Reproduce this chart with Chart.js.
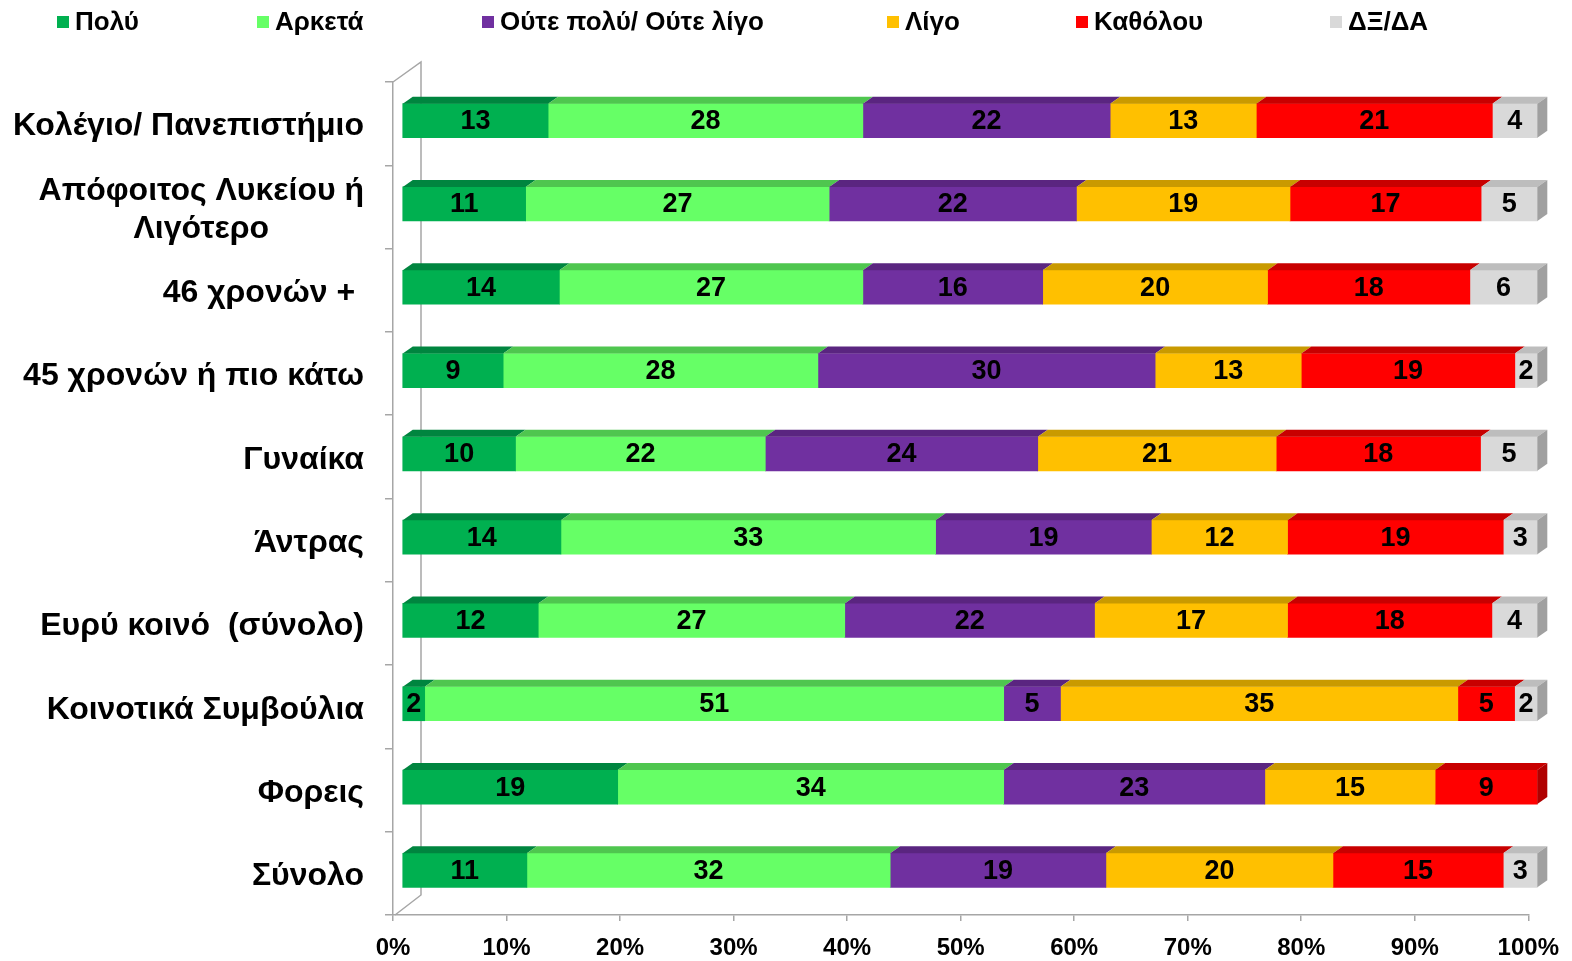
<!DOCTYPE html>
<html><head><meta charset="utf-8">
<script src="https://cdn.jsdelivr.net/npm/chart.js@4.4.0/dist/chart.umd.min.js"></script>
<style>html,body{margin:0;padding:0;background:#fff;overflow:hidden}canvas{display:block}</style>
</head><body>
<canvas id="c" width="1572" height="961"></canvas>
<script>
// ---- DATA ----
const categories = [
  'Κολέγιο/ Πανεπιστήμιο',
  ['Απόφοιτος Λυκείου ή', 'Λιγότερο'],
  '46 χρονών + ',
  '45 χρονών ή πιο κάτω',
  'Γυναίκα',
  'Άντρας',
  'Ευρύ κοινό  (σύνολο)',
  'Κοινοτικά Συμβούλια',
  'Φορεις',
  'Σύνολο'
];
const seriesNames = ['Πολύ', 'Αρκετά', 'Ούτε πολύ/ Ούτε λίγο', 'Λίγο', 'Καθόλου', 'ΔΞ/ΔΑ'];
const poly     = [13, 11, 14,  9, 10, 14, 12,  2, 19, 11];
const arketa   = [28, 27, 27, 28, 22, 33, 27, 51, 34, 32];
const oute     = [22, 22, 16, 30, 24, 19, 22,  5, 23, 19];
const ligo     = [13, 19, 20, 13, 21, 12, 17, 35, 15, 20];
const katholou = [21, 17, 18, 19, 18, 19, 18,  5,  9, 15];
const dxda     = [ 4,  5,  6,  2,  5,  3,  4,  2,  0,  3];
const xTickValues = [0, 10, 20, 30, 40, 50, 60, 70, 80, 90, 100];

// ---- STYLE ----
const FONT = "'Liberation Sans', Arial, sans-serif";
const frontColors = ['#00B050', '#66FF66', '#7030A0', '#FFC000', '#FF0000', '#D9D9D9'];
const topColors   = ['#00853F', '#4FC64F', '#5A2580', '#C99A00', '#C80000', '#BDBDBD'];
const sideColors  = ['#007A35', '#48BB48', '#4E2070', '#BF8F00', '#B00000', '#A0A0A0'];
const legendX = [57, 257, 482, 887, 1076, 1330];
const AXIS_GRAY = '#A6A6A6';
const BAR_DX = 9, BAR_DY = -3, DEPTH_X = 10, DEPTH_Y = 7;

const rawSeries = [poly, arketa, oute, ligo, katholou, dxda];
const rowSums = categories.map((_, i) => rawSeries.reduce((s, arr) => s + arr[i], 0));

const datasets = rawSeries.map((arr, k) => ({
  label: seriesNames[k],
  data: arr.map((v, i) => v / rowSums[i] * 100),
  raw: arr,
  backgroundColor: frontColors[k],
  borderWidth: 0,
  barThickness: 34,
  clip: false
}));

const wallPlugin = {
  id: 'wall',
  beforeDatasetsDraw(chart) {
    const {ctx, chartArea: a} = chart;
    ctx.save();
    ctx.strokeStyle = AXIS_GRAY;
    ctx.lineWidth = 1.5;
    ctx.beginPath();
    ctx.moveTo(a.left, a.top);
    ctx.lineTo(a.left + 28, a.top - 20);
    ctx.lineTo(a.left + 28, a.bottom - 20);
    ctx.lineTo(a.left + 2, a.bottom);
    ctx.stroke();
    ctx.restore();
    ctx.save();
    ctx.translate(BAR_DX, BAR_DY);
  },
  afterDatasetsDraw(chart) {
    const ctx = chart.ctx;
    const n = categories.length;
    for (let i = 0; i < n; i++) {
      let lastK = -1;
      chart.data.datasets.forEach((ds, k) => {
        if (ds.raw[i] <= 0) return;
        lastK = k;
        const el = chart.getDatasetMeta(k).data[i];
        const x0 = el.base, x1 = el.x, top = el.y - el.height / 2;
        ctx.fillStyle = topColors[k];
        ctx.beginPath();
        ctx.moveTo(x0, top);
        ctx.lineTo(x0 + DEPTH_X, top - DEPTH_Y);
        ctx.lineTo(x1 + DEPTH_X, top - DEPTH_Y);
        ctx.lineTo(x1, top);
        ctx.closePath();
        ctx.fill();
      });
      if (lastK >= 0) {
        const el = chart.getDatasetMeta(lastK).data[i];
        const x1 = el.x, top = el.y - el.height / 2, bot = el.y + el.height / 2;
        ctx.fillStyle = sideColors[lastK];
        ctx.beginPath();
        ctx.moveTo(x1, top);
        ctx.lineTo(x1 + DEPTH_X, top - DEPTH_Y);
        ctx.lineTo(x1 + DEPTH_X, bot - DEPTH_Y);
        ctx.lineTo(x1, bot);
        ctx.closePath();
        ctx.fill();
      }
    }
    ctx.fillStyle = '#000';
    ctx.font = 'bold 27px ' + FONT;
    ctx.textAlign = 'center';
    ctx.textBaseline = 'middle';
    chart.data.datasets.forEach((ds, k) => {
      chart.getDatasetMeta(k).data.forEach((el, i) => {
        if (ds.raw[i] <= 0) return;
        ctx.fillText(String(ds.raw[i]), (el.x + el.base) / 2, el.y + 1);
      });
    });
    ctx.restore();
  },
  afterDraw(chart) {
    const ctx = chart.ctx;
    const ys = chart.scales.y;
    ctx.save();
    ctx.fillStyle = '#000';
    ctx.font = 'bold 32px ' + FONT;
    ctx.textBaseline = 'middle';
    const rightX = 364;
    categories.forEach((lab, i) => {
      const yc = ys.getPixelForValue(i) + 3;
      if (Array.isArray(lab)) {
        const w = Math.max(...lab.map(l => ctx.measureText(l).width));
        ctx.textAlign = 'center';
        const lh = 38;
        lab.forEach((l, j) => {
          ctx.fillText(l, rightX - w / 2, yc + (j - (lab.length - 1) / 2) * lh);
        });
      } else {
        ctx.textAlign = 'right';
        ctx.fillText(lab, rightX, yc);
      }
    });
    ctx.font = 'bold 26px ' + FONT;
    ctx.textAlign = 'left';
    seriesNames.forEach((nm, k) => {
      const x = legendX[k];
      ctx.fillStyle = frontColors[k];
      ctx.fillRect(x, 16, 12, 12);
      ctx.fillStyle = '#000';
      ctx.fillText(nm, x + 18, 23);
    });
    ctx.restore();
  }
};

new Chart(document.getElementById('c'), {
  type: 'bar',
  data: { labels: categories, datasets },
  options: {
    indexAxis: 'y',
    responsive: false,
    animation: false,
    devicePixelRatio: 1,
    layout: { padding: { top: 82, right: 42, left: 0, bottom: 0 } },
    plugins: { legend: { display: false }, tooltip: { enabled: false } },
    scales: {
      x: {
        stacked: true,
        min: 0, max: 100,
        afterBuildTicks(s) { s.ticks = xTickValues.map(v => ({ value: v })); },
        afterFit(s) { s.height = 46; },
        ticks: {
          color: '#000',
          font: { family: FONT, size: 24, weight: 'bold' },
          callback: v => v + '%',
          padding: 13,
          maxRotation: 0
        },
        grid: { drawOnChartArea: false, color: AXIS_GRAY, tickLength: 6, lineWidth: 1.5 },
        border: { color: AXIS_GRAY, width: 1.5 }
      },
      y: {
        stacked: true,
        afterFit(s) { s.width = 393; },
        ticks: { display: false },
        grid: { drawOnChartArea: false, color: AXIS_GRAY, tickLength: 8, lineWidth: 1.5, offset: true },
        border: { color: AXIS_GRAY, width: 1.5 }
      }
    }
  },
  plugins: [wallPlugin]
});
</script>
</body></html>
